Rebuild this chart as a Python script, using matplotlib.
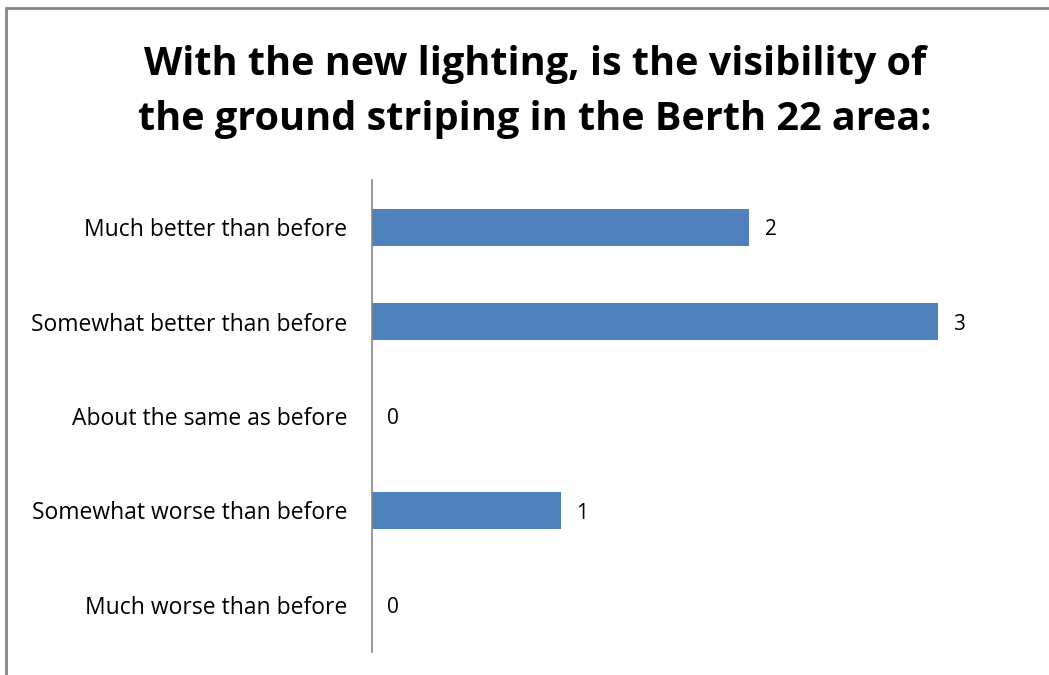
import matplotlib
matplotlib.use("Agg")
import matplotlib.pyplot as plt
from matplotlib.patches import Rectangle

# survey answers, top to bottom
answers = ["Much better than before", "Somewhat better than before",
           "About the same as before", "Somewhat worse than before",
           "Much worse than before"]
counts = [2, 3, 0, 1, 0]

title = "With the new lighting, is the visibility of\nthe ground striping in the Berth 22 area:"

plt.rcParams['font.family'] = ['Open Sans', 'DejaVu Sans']

fig = plt.figure(figsize=(10.49, 6.75), dpi=100)

# outer chart border (right/bottom are off the picture)
fig.patches.append(Rectangle((5.5 / 1049, -0.05), 1.2, 1.05 - 7.5 / 675,
                             transform=fig.transFigure, fill=False,
                             edgecolor='#868686', linewidth=2))

ax = fig.add_axes([372 / 1049, 1 - 652 / 675, 566 / 1049, 472 / 675])
ypos = list(range(len(answers)))
ax.barh(ypos, counts, height=0.39, color='#4F81BD')
ax.set_xlim(0, 3)
ax.set_ylim(len(answers) - 0.5, -0.5)

for y, c in zip(ypos, counts):
    ax.annotate(str(c), (c, y), xytext=(11, -2), textcoords='offset points',
                ha='left', va='center', fontsize=15, clip_on=False)

ax.set_yticks(ypos)
ax.set_yticklabels(answers, fontsize=16.5)
ax.tick_params(axis='y', length=0, pad=18)
ax.set_xticks([])
for s in ['top', 'right', 'bottom']:
    ax.spines[s].set_visible(False)
ax.spines['left'].set_color('#868686')
ax.spines['left'].set_linewidth(1.2)

fig.text(535 / 1049, 1 - 92 / 675, title, ha='center', va='center',
         fontsize=28.5, fontweight='bold', linespacing=1.55)

fig.savefig("out.png", dpi=100)
